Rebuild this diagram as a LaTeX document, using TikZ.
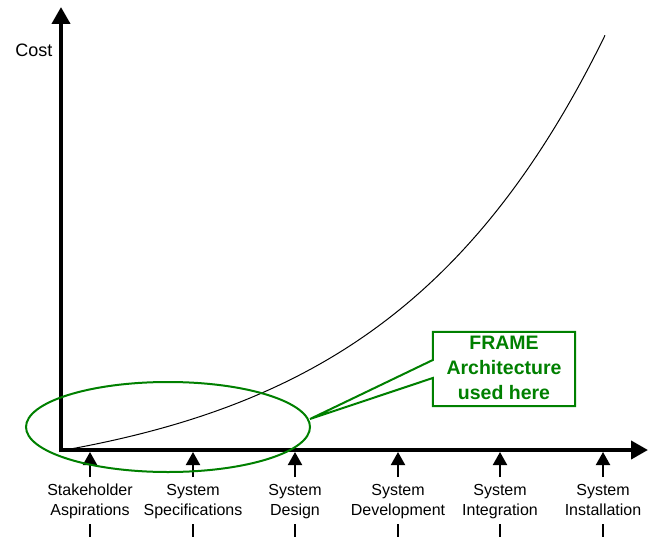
\documentclass[tikz,border=0pt]{standalone}
\usepackage{fontspec}
\setmainfont{Liberation Sans}
\usetikzlibrary{arrows.meta,shapes.geometric,calc}
\definecolor{framegreen}{RGB}{0,128,0}
\begin{document}
\begin{tikzpicture}[x=1pt,y=-1pt,
  axis/.style={line width=4pt,-{Triangle[length=17pt,width=18pt]}},
  tickarrow/.style={line width=2pt,-{Triangle[length=13pt,width=14pt]}},
  tickline/.style={line width=2pt},
  lbl/.style={align=center,font=\fontsize{16}{20}\selectfont,inner sep=0pt},
  greenline/.style={draw=framegreen,line width=2pt}]
\useasboundingbox (0,0) rectangle (652,537);
% axes
\coordinate (o) at (61,450);
\coordinate (ytop) at (61,7);
\coordinate (xend) at (648,450);
\draw[line width=1pt] plot[domain=65:605,samples=120] (\x,{450-40*(exp(0.0045*(\x-65))-1)});
\draw[axis] ($(o)+(0,2)$) -- (ytop);
\draw[axis] ($(o)+(-2,0)$) -- (xend);
\node[font=\fontsize{18}{20}\selectfont,inner sep=0pt] (cost) at (34,50) {Cost};
% ticks and labels
\foreach \n/\x/\t in {a/90/{Stakeholder\strut\\Aspirations\strut},b/193/{System\strut\\Specifications\strut},c/295/{System\strut\\Design\strut},d/398/{System\strut\\Development\strut},e/500/{System\strut\\Integration\strut},f/603/{System\strut\\Installation\strut}}{
  \node[lbl] (\n) at (\x,501) {\t};
  \coordinate (\n top) at (\x,452);
  \coordinate (\n low) at (\x,477);
  \coordinate (\n b1) at (\x,524);
  \coordinate (\n b2) at (\x,538);
  \draw[tickarrow] (\n low) -- (\n top);
  \draw[tickline] (\n b1) -- (\n b2);
}
% ellipse
\node[ellipse,greenline,minimum width=284pt,minimum height=90pt,inner sep=0pt] (ell) at (168,427) {};
% callout
\node[fill=white,minimum width=142pt,minimum height=74pt,inner sep=0pt] (box) at (504,369) {};
\coordinate (tip) at (310,419);
\draw[greenline,fill=white,line join=miter] (box.north west) -- ($(box.west)+(0,-9)$) -- (tip) -- ($(box.west)+(0,9)$) -- (box.south west) -- (box.south east) -- (box.north east) -- cycle;
\node[inner sep=0pt,align=center,text=framegreen,font=\fontsize{19.5}{25}\selectfont\bfseries] (boxtext) at (box.center) {FRAME\strut\\Architecture\strut\\used here\strut};
\end{tikzpicture}
\end{document}
